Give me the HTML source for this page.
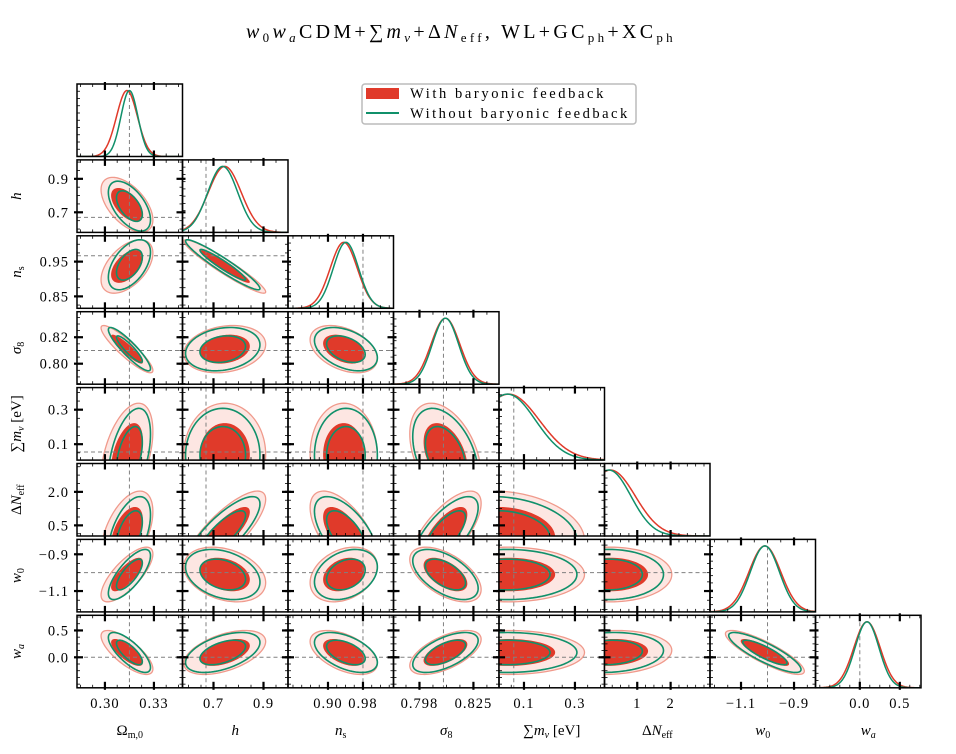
<!DOCTYPE html>
<html><head><meta charset="utf-8">
<style>
html,body{margin:0;padding:0;background:#fff;}
svg{display:block;font-family:"Liberation Serif","DejaVu Serif",serif;}
</style></head>
<body>
<svg id="fig" width="956" height="754" viewBox="0 0 956 754" xmlns="http://www.w3.org/2000/svg">
<text x="461" y="38" text-anchor="middle" font-size="20" letter-spacing="3.3"><tspan font-style="italic">w</tspan><tspan font-size="13" dy="4">0</tspan><tspan dy="-4" font-style="italic">w</tspan><tspan font-size="13" dy="4" font-style="italic">a</tspan><tspan dy="-4">CDM+∑</tspan><tspan font-style="italic">m</tspan><tspan font-size="13" dy="4" font-style="italic">ν</tspan><tspan dy="-4">+Δ</tspan><tspan font-style="italic">N</tspan><tspan font-size="13" dy="4">eff</tspan><tspan dy="-4">, WL+GC</tspan><tspan font-size="13" dy="4">ph</tspan><tspan dy="-4">+XC</tspan><tspan font-size="13" dy="4">ph</tspan></text>
<g id="panels"></g>
<g>
<rect x="362" y="84" width="274" height="40" rx="3" fill="#fff" stroke="#bbb" stroke-width="1.5"/>
<rect x="366" y="88" width="33" height="11" fill="#e03a2a"/>
<text x="410" y="98" font-size="14.5" letter-spacing="2.6">With baryonic feedback</text>
<line x1="366" y1="113" x2="399" y2="113" stroke="#10906a" stroke-width="2"/>
<text x="410" y="118" font-size="14.5" letter-spacing="2.5">Without baryonic feedback</text>
</g>
</svg>
<script>
const NS="http://www.w3.org/2000/svg";
const xLo=[0.2829,0.576,0.8086,0.785,0.002,0.019,-1.217,-0.554];
const xHi=[0.3475,0.998,1.0498,0.8378,0.416,3.18,-0.819,0.765];
const yLo=[0.2829,0.580,0.8157,0.7845,0.0078,0.024,-1.2135,-0.568];
const yHi=[0.3475,1.013,1.0243,0.8393,0.428,3.27,-0.819,0.782];
const fidX=[0.315,0.67,0.98,0.81,0.06,null,-1,0];
const fidY=[0.315,0.67,0.967,0.81,0.055,null,-1,0];
const meanRed=[0.3135,0.745,0.936,0.811,0.04,0.2,-1.01,0.09];
const sigRed=[0.0064,0.066,0.031,0.0072,0.12,0.74,0.06,0.165];
const meanGreen=[0.3150,0.737,0.941,0.811,0.035,0.15,-1.01,0.09];
const sigGreen=[0.0052,0.06,0.029,0.0066,0.11,0.66,0.055,0.15];
const corrRow1=[-0.55];
const corrRow2=[0.5,-0.95];
const corrRow3=[-0.9,0.2,-0.4];
const corrRow4=[0.45,0.0,0.0,-0.4];
const corrRow5=[0.5,0.8,-0.6,0.7,-0.2];
const corrRow6=[0.75,-0.3,0.3,-0.55,0.0,0.0];
const corrRow7=[-0.75,0.5,-0.5,0.6,0.0,0.1,-0.85];
const corr=[[],corrRow1,corrRow2,corrRow3,corrRow4,corrRow5,corrRow6,corrRow7];
const xTicks=[[0.30,0.33],[0.7,0.9],[0.90,0.98],[0.798,0.825],[0.1,0.3],[1,2],[-1.1,-0.9],[0.0,0.5]];
const xTickLabels=[["0.30","0.33"],["0.7","0.9"],["0.90","0.98"],["0.798","0.825"],["0.1","0.3"],["1","2"],["−1.1","−0.9"],["0.0","0.5"]];
const yTicks=[[],[0.9,0.7],[0.95,0.85],[0.82,0.80],[0.3,0.1],[2.0,0.5],[-0.9,-1.1],[0.5,0.0]];
const yTickLabels=[[],["0.9","0.7"],["0.95","0.85"],["0.82","0.80"],["0.3","0.1"],["2.0","0.5"],["−0.9","−1.1"],["0.5","0.0"]];
const RED="#e03a2a",PINK="#fde6e2",SALMON="#f09a8c",GREEN="#10906a";
const PW=105.5,PH=72.5;
function colLeft(j){return 77+PW*j;}
function rowTop(i){return 84+75.9*i;}
function sx(j,v){return colLeft(j)+(v-xLo[j])/(xHi[j]-xLo[j])*PW;}
function sy(i,v){return rowTop(i)+PH-(v-yLo[i])/(yHi[i]-yLo[i])*PH;}
const root=document.getElementById('panels');
function mk(tag,attrs,parent){const e=document.createElementNS(NS,tag);for(const k in attrs)e.setAttribute(k,attrs[k]);(parent||root).appendChild(e);return e;}
function ellipsePath(i,j,mean,sig,k){
  const r=corr[i][j];let d="";
  for(let s=0;s<=100;s++){const t=s/100*2*Math.PI;
    const vx=mean[j]+k*sig[j]*Math.cos(t);
    const vy=mean[i]+k*sig[i]*(r*Math.cos(t)+Math.sqrt(1-r*r)*Math.sin(t));
    d+=(s?"L":"M")+sx(j,vx).toFixed(2)+","+sy(i,vy).toFixed(2);}
  return d+"Z";
}
function gauss1d(j,mean,sig){
  let d="";const n=150;
  const trunc=(j===4||j===5);
  const b=rowTop(j)+PH;
  for(let s=0;s<=n;s++){const v=xLo[j]+(xHi[j]-xLo[j])*s/n;
    let dens=Math.exp(-0.5*Math.pow((v-mean)/sig,2));
    if(trunc&&v<0)dens=0;
    d+=(s?"L":"M")+sx(j,v).toFixed(2)+","+(b-0.91*PH*dens).toFixed(2);}
  return d;
}
const defs=mk('defs',{});
for(let i=0;i<8;i++){for(let j=0;j<=i;j++){
  const g=mk('g',{});
  
  
  const cp=mk('clipPath',{id:'c'+i+'_'+j},defs);
  mk('rect',{x:colLeft(j),y:rowTop(i),width:PW,height:PH},cp);
  const inner=mk('g',{'clip-path':'url(#c'+i+'_'+j+')'},g);
  if(i===j){
    if(fidX[j]!==null){const l=mk('line',{x1:sx(j,fidX[j]),x2:sx(j,fidX[j]),y1:rowTop(i),y2:rowTop(i)+PH,stroke:"#808080","stroke-width":1,"stroke-dasharray":"4,3"},inner);
      
      }
    const pr=mk('path',{d:gauss1d(j,meanRed[j],sigRed[j]),fill:"none",stroke:RED,"stroke-width":1.5},inner);
    
    
    const pg=mk('path',{d:gauss1d(j,meanGreen[j],sigGreen[j]),fill:"none",stroke:GREEN,"stroke-width":1.5},inner);
    
    
  } else {
    const o=mk('path',{d:ellipsePath(i,j,meanRed,sigRed,2.48),fill:PINK,stroke:SALMON,"stroke-width":1.3},inner);
    
    
    const n=mk('path',{d:ellipsePath(i,j,meanRed,sigRed,1.52),fill:RED,stroke:"none"},inner);
    
    
    if(fidX[j]!==null){const l=mk('line',{x1:sx(j,fidX[j]),x2:sx(j,fidX[j]),y1:rowTop(i),y2:rowTop(i)+PH,stroke:"#808080","stroke-width":1,"stroke-dasharray":"4,3"},inner);
      
      }
    if(fidY[i]!==null){const l=mk('line',{x1:colLeft(j),x2:colLeft(j)+PW,y1:sy(i,fidY[i]),y2:sy(i,fidY[i]),stroke:"#808080","stroke-width":1,"stroke-dasharray":"4,3"},inner);
      
      }
    const g95=mk('path',{d:ellipsePath(i,j,meanGreen,sigGreen,2.48),fill:"none",stroke:GREEN,"stroke-width":1.6},inner);
    
    
    const g68=mk('path',{d:ellipsePath(i,j,meanGreen,sigGreen,1.52),fill:"none",stroke:GREEN,"stroke-width":1.6},inner);
    
    
  }
  const t=xTicks[j];const step=(t[1]-t[0])/4;
  for(let m=-12;m<=40;m++){const v=t[0]+step*m; if(v<xLo[j]||v>xHi[j])continue;const x=sx(j,v);
    mk('line',{x1:x,x2:x,y1:rowTop(i)+PH,y2:rowTop(i)+PH-3,stroke:"#000","stroke-width":0.8},g);
    mk('line',{x1:x,x2:x,y1:rowTop(i),y2:rowTop(i)+3,stroke:"#000","stroke-width":0.8},g);}
  t.forEach(v=>{const x=sx(j,v);
    mk('line',{x1:x,x2:x,y1:rowTop(i)+PH+2,y2:rowTop(i)+PH-6,stroke:"#000","stroke-width":2.2},g);
    mk('line',{x1:x,x2:x,y1:rowTop(i)-2,y2:rowTop(i)+6,stroke:"#000","stroke-width":2.2},g);});
  if(i!==j){const ty=yTicks[i];const st=(ty[0]-ty[1])/4;
    for(let m=-12;m<=40;m++){const v=ty[1]+st*m; if(v<yLo[i]||v>yHi[i])continue;const y=sy(i,v);
      mk('line',{x1:colLeft(j),x2:colLeft(j)+3,y1:y,y2:y,stroke:"#000","stroke-width":0.8},g);
      mk('line',{x1:colLeft(j)+PW,x2:colLeft(j)+PW-3,y1:y,y2:y,stroke:"#000","stroke-width":0.8},g);}
    ty.forEach(v=>{const y=sy(i,v);
      mk('line',{x1:colLeft(j)-3,x2:colLeft(j)+6,y1:y,y2:y,stroke:"#000","stroke-width":2.2},g);
      mk('line',{x1:colLeft(j)+PW+3,x2:colLeft(j)+PW-6,y1:y,y2:y,stroke:"#000","stroke-width":2.2},g);});
  } else {
    for(let s=1;s<10;s++){const y=rowTop(i)+PH*s/10;
      mk('line',{x1:colLeft(j),x2:colLeft(j)+3,y1:y,y2:y,stroke:"#000","stroke-width":0.8},g);}
  }
  const fr=mk('rect',{x:colLeft(j),y:rowTop(i),width:PW,height:PH,fill:"none",stroke:"#000","stroke-width":1.5},g);
  
  
}}
for(let j=0;j<8;j++){xTicks[j].forEach((v,k)=>{const e=mk('text',{x:sx(j,v),y:708,"text-anchor":"middle","font-size":14.5,"letter-spacing":1});
  
  
  e.textContent=xTickLabels[j][k];});}
for(let i=1;i<8;i++){yTicks[i].forEach((v,k)=>{const e=mk('text',{x:69,y:sy(i,v)+5,"text-anchor":"end","font-size":14.5,"letter-spacing":1});
  
  
  e.textContent=yTickLabels[i][k];});}
const xt=[
 '<tspan>Ω</tspan><tspan font-size="10" dy="3">m,0</tspan>',
 '<tspan font-style="italic">h</tspan>',
 '<tspan font-style="italic">n</tspan><tspan font-size="10" dy="3">s</tspan>',
 '<tspan font-style="italic">σ</tspan><tspan font-size="10" dy="3">8</tspan>',
 '<tspan>∑</tspan><tspan font-style="italic">m</tspan><tspan font-size="10" dy="3" font-style="italic">ν</tspan><tspan dy="-3"> [eV]</tspan>',
 '<tspan>Δ</tspan><tspan font-style="italic">N</tspan><tspan font-size="10" dy="3">eff</tspan>',
 '<tspan font-style="italic">w</tspan><tspan font-size="10" dy="3">0</tspan>',
 '<tspan font-style="italic">w</tspan><tspan font-size="10" dy="3" font-style="italic">a</tspan>'];
for(let j=0;j<8;j++){const e=mk('text',{x:colLeft(j)+PW/2,y:735,"text-anchor":"middle","font-size":15});
  
  
  e.innerHTML=xt[j];}
for(let i=1;i<8;i++){const cy=rowTop(i)+PH/2;const e=mk('text',{x:0,y:0,"text-anchor":"middle","font-size":15,transform:"translate(21,"+cy+") rotate(-90)"});
  
  
  e.innerHTML=xt[i];}
</script>
</body></html>
